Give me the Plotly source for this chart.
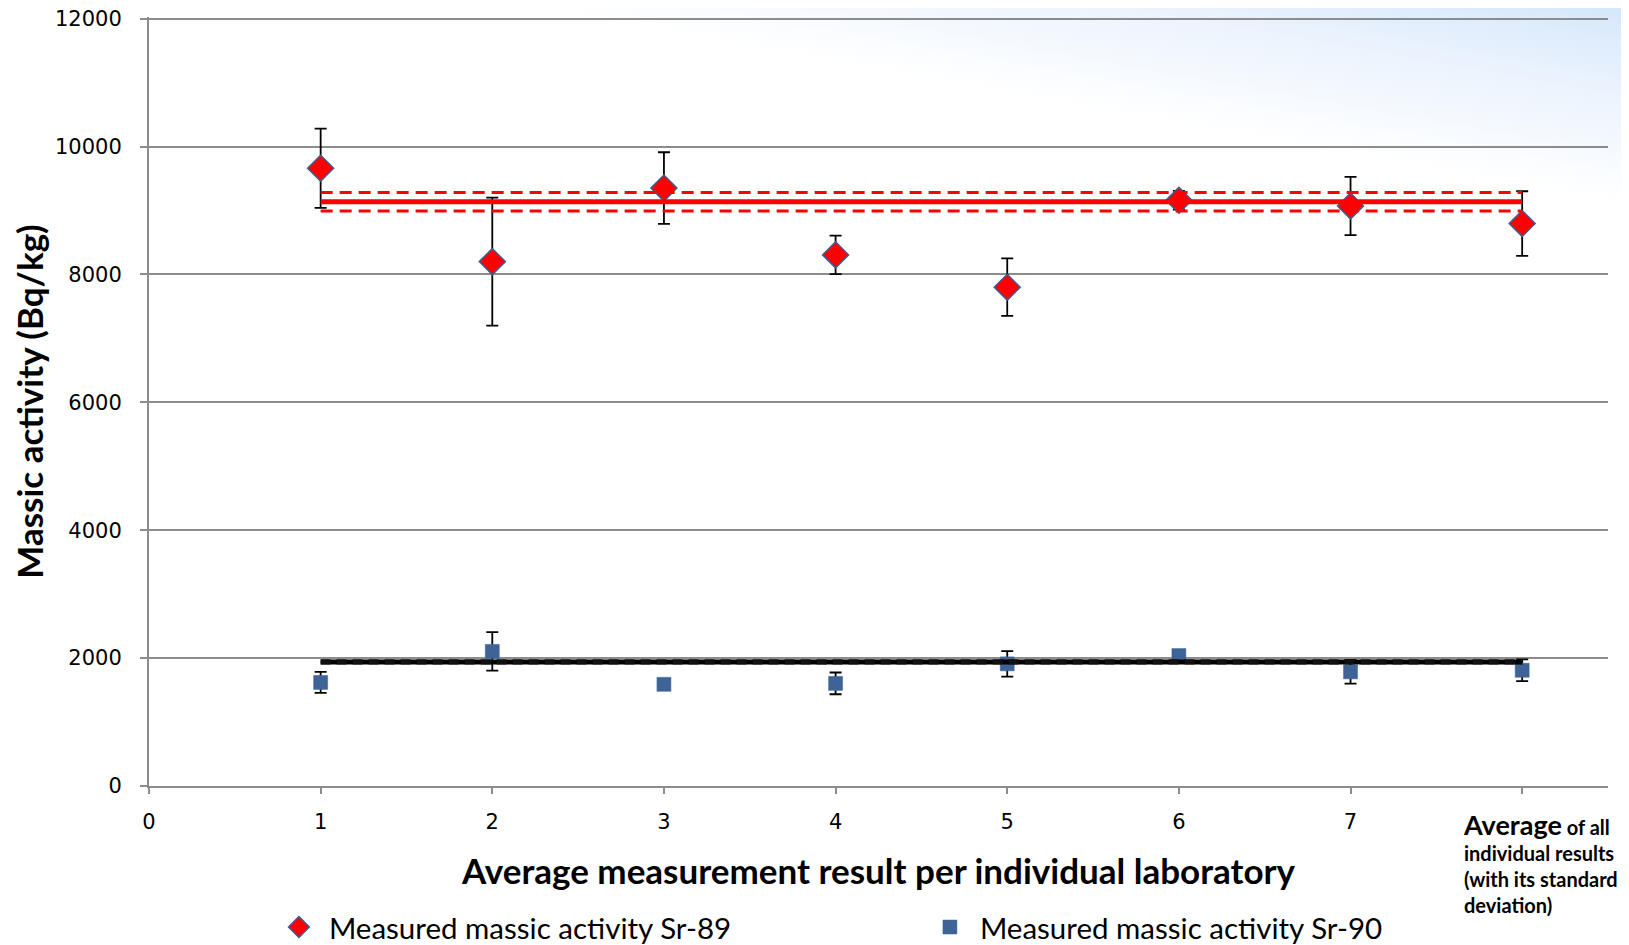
import plotly.graph_objects as go
import base64

# ---- data ----
labs = [1, 2, 3, 4, 5, 6, 7, 8]          # 8 = average of all individual results
sr89 = [9660, 8200, 9350, 8305, 7800, 9160, 9070, 8795]
sr89_err = [620, 1000, 560, 300, 450, 145, 455, 505]
sr90 = [1620, 2105, 1590, 1605, 1910, 2040, 1785, 1810]
sr90_err = [165, 300, 40, 170, 200, 40, 185, 170]
sr89_mean, sr89_sd = 9135, 145
sr90_mean, sr90_sd = 1940, 18
mean_x = [1, 8]
x_tickvals = [0, 1, 2, 3, 4, 5, 6, 7, 8]
x_ticktext = ["0", "1", "2", "3", "4", "5", "6", "7", ""]
y_tickvals = [0, 2000, 4000, 6000, 8000, 10000, 12000]
y_ticktext = ["0", "2000", "4000", "6000", "8000", "10000", "12000"]

RED = "#FF0000"
BLUE = "#3E6497"
EDGE = "#3B5E8C"
GRID = "#8C8C8C"

# page body has an 8px margin: figure is 1621x937 so it fills the 1629x945 window
W, H = 1621, 937
ML, MR, MT, MB = 141, 21, 9.4, 158.5
PW, PH = W - ML - MR, H - MT - MB

fig = go.Figure()

fig.add_trace(go.Scatter(
    x=labs, y=sr89, mode="markers", name="Measured massic activity Sr-89",
    marker=dict(symbol="diamond", size=20, color=RED, line=dict(color=EDGE, width=1.5)),
    error_y=dict(type="data", array=sr89_err, color="black", thickness=1.8, width=6),
))
fig.add_trace(go.Scatter(
    x=labs, y=sr90, mode="markers", name="Measured massic activity Sr-90",
    marker=dict(symbol="square", size=14, color=BLUE, line=dict(color=BLUE, width=0.5)),
    error_y=dict(type="data", array=sr90_err, color="black", thickness=1.8, width=6),
))

# mean lines with +/- standard deviation
fig.add_trace(go.Scatter(x=mean_x, y=[sr89_mean, sr89_mean], mode="lines",
                         line=dict(color=RED, width=5), showlegend=False, hoverinfo="skip"))
for s in (1, -1):
    fig.add_trace(go.Scatter(x=mean_x, y=[sr89_mean + s * sr89_sd] * 2, mode="lines",
                             line=dict(color=RED, width=3, dash="12px,7px"),
                             showlegend=False, hoverinfo="skip"))
fig.add_trace(go.Scatter(x=mean_x, y=[sr90_mean, sr90_mean], mode="lines",
                         line=dict(color="black", width=5), showlegend=False, hoverinfo="skip"))
for s in (1, -1):
    fig.add_trace(go.Scatter(x=mean_x, y=[sr90_mean + s * sr90_sd] * 2, mode="lines",
                             line=dict(color="#111111", width=3, dash="10px,6px"),
                             showlegend=False, hoverinfo="skip"))

# background gradient (top-right light blue)
svg = f"""<svg xmlns='http://www.w3.org/2000/svg' width='{W}' height='{H}'>
<defs><linearGradient id='g' gradientUnits='userSpaceOnUse' x1='{W}' y1='0' x2='{W-34}' y2='190'>
<stop offset='0' stop-color='#D5E7FB'/><stop offset='0.4' stop-color='#E9F2FD'/><stop offset='1' stop-color='#FFFFFF'/>
</linearGradient></defs><rect width='{W}' height='{H}' fill='url(#g)'/></svg>"""
src = "data:image/svg+xml;base64," + base64.b64encode(svg.encode()).decode()
fig.add_layout_image(dict(source=src, xref="paper", yref="paper", x=-ML / PW, y=(H - MB) / PH,
                          sizex=W / PW, sizey=H / PH, xanchor="left", yanchor="top",
                          sizing="stretch", layer="below"))

fig.add_annotation(
    text="<b><span style='font-size:27px'>Average</span> of all<br>individual results<br>(with its standard<br>deviation)</b>",
    xref="paper", yref="paper", x=(1461 - 149) / PW, y=-0.026, xanchor="left", yanchor="top",
    align="left", showarrow=False, font=dict(family="Lato", size=20, color="black"))

fig.update_layout(
    width=W, height=H,
    margin=dict(l=ML, r=MR, t=MT, b=MB, autoexpand=False),
    paper_bgcolor="white", plot_bgcolor="rgba(0,0,0,0)",
    showlegend=True,
    legend=dict(orientation="h", x=0.0822, y=-0.150, xanchor="left", yanchor="top",
                entrywidth=586, entrywidthmode="pixels", itemwidth=50,
                font=dict(family="Lato", size=29.5, color="black"), bgcolor="rgba(0,0,0,0)"),
    font=dict(family="DejaVu Sans", color="black"),
)
fig.update_xaxes(range=[0, 8.5], tickvals=x_tickvals, ticktext=x_ticktext, automargin=False,
                 showgrid=False, zeroline=False, showline=True, linecolor=GRID, linewidth=2,
                 ticks="outside", ticklen=6, tickcolor=GRID, tickwidth=1.5, ticklabelstandoff=10,
                 tickfont=dict(family="DejaVu Sans", size=21, color="black"),
                 title=dict(text="<b>Average measurement result per individual laboratory</b>",
                            font=dict(family="Lato", size=35, color="black"), standoff=26))
fig.update_yaxes(range=[0, 12025], tickvals=y_tickvals, ticktext=y_ticktext, automargin=False,
                 ticklabeloverflow="allow",
                 showgrid=True, gridcolor=GRID, gridwidth=1.5, zeroline=False,
                 showline=True, linecolor=GRID, linewidth=2,
                 ticks="outside", ticklen=7, tickcolor=GRID, tickwidth=1.5,
                 ticklabelstandoff=14,
                 tickfont=dict(family="DejaVu Sans", size=21, color="black"),
                 title=dict(text="<b>Massic activity (Bq/kg)</b>",
                            font=dict(family="Lato", size=35, color="black"), standoff=10))

fig.write_html("out.html")
